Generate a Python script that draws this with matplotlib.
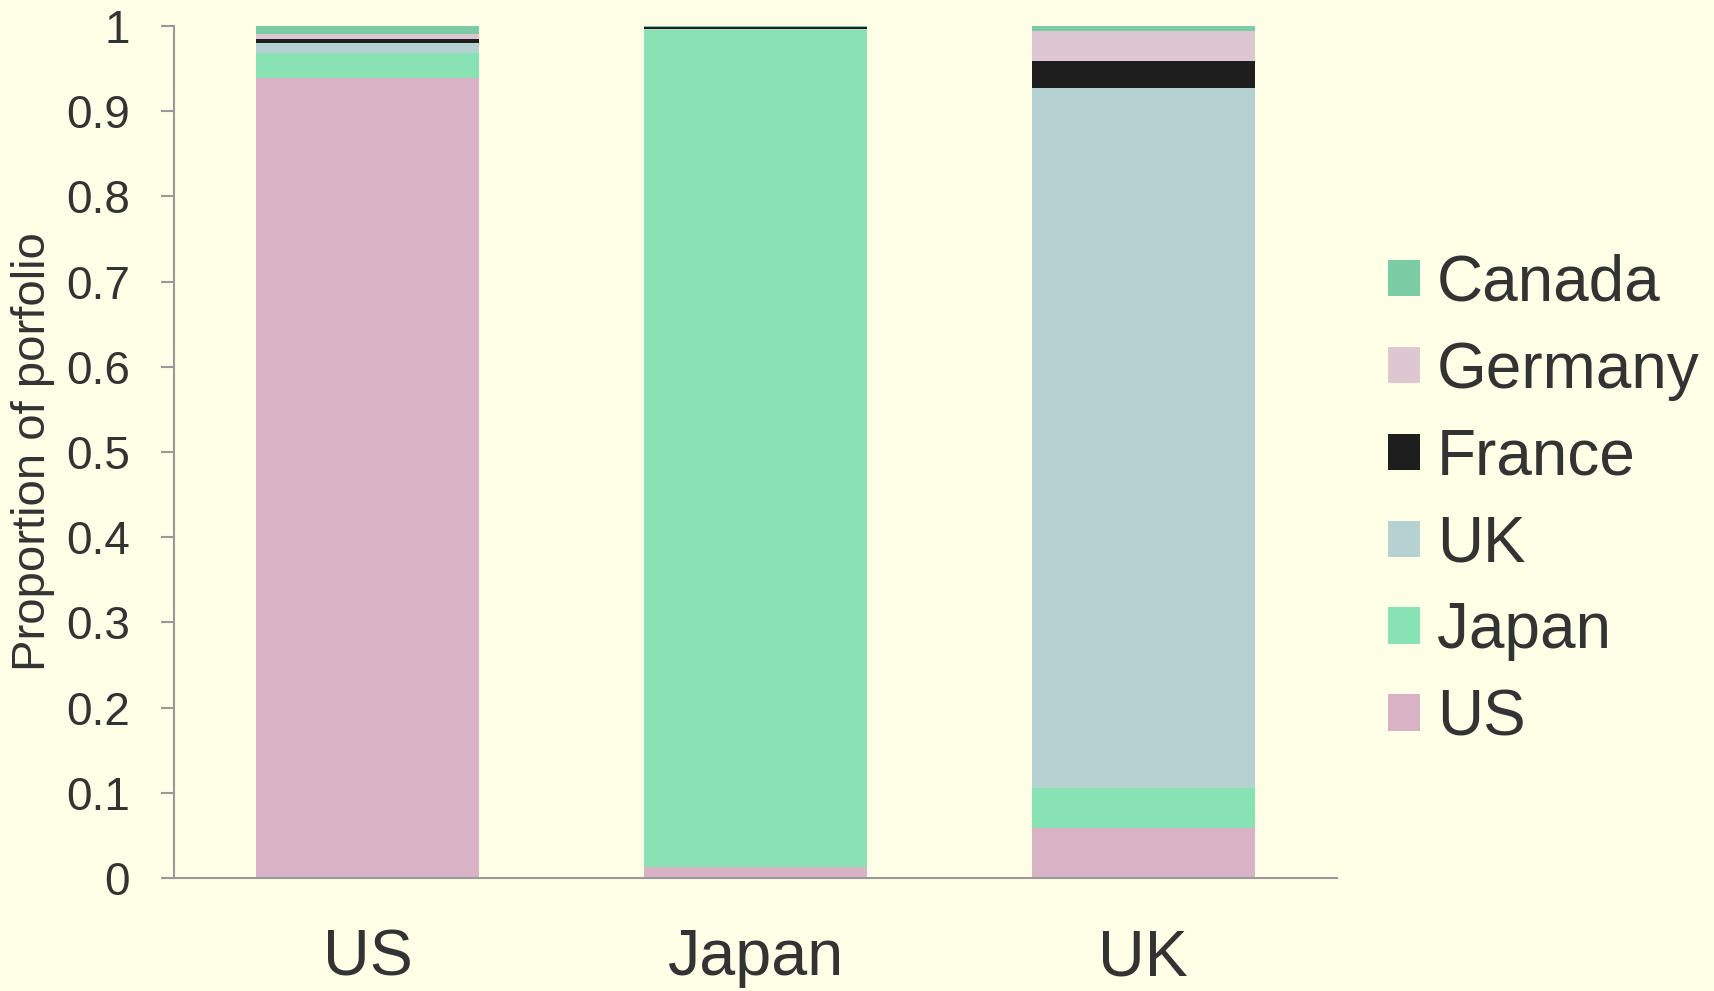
import numpy as np
import matplotlib.pyplot as plt
from matplotlib.patches import Patch

plt.rcParams['font.family'] = ['Liberation Sans', 'DejaVu Sans']

# investor country (bars) and holdings by country (stacks)
investidores = ['US', 'Japan', 'UK']
paises = ['US', 'Japan', 'UK', 'France', 'Germany', 'Canada']
us = [0.9386, 0.0125, 0.0587]
japan = [0.0300, 0.9825, 0.0475]
uk = [0.0110, 0.0015, 0.8210]
france = [0.0050, 0.0020, 0.0320]
germany = [0.0060, 0.0005, 0.0350]
canada = [0.0094, 0.0010, 0.0060]
valores = [us, japan, uk, france, germany, canada]
cores = ['#d9b3c5', '#88e2b4', '#b5d1d2', '#1e1e1e', '#ddc8d2', '#7bcba4']

fundo = '#ffffe8'
texto = '#333333'

fig = plt.figure(figsize=(17.15, 9.91), dpi=100, facecolor=fundo)
ax = fig.add_axes([174 / 1715, 1 - 878 / 991, (1337 - 174) / 1715, (878 - 26) / 991])
ax.set_facecolor(fundo)

x = np.arange(len(investidores))
base = np.zeros(len(investidores))
for nome, v, c in zip(paises, valores, cores):
    ax.bar(x, v, width=0.575, bottom=base, color=c, linewidth=0, label=nome)
    base += np.array(v)

ax.set_xlim(-0.5, 2.5)
ax.set_ylim(0, 1)
ax.set_yticks(np.arange(0, 1.01, 0.1))
ax.set_yticklabels(['0', '0.1', '0.2', '0.3', '0.4', '0.5', '0.6', '0.7', '0.8', '0.9', '1'])
ax.set_xticks(x)
ax.set_xticklabels(investidores)

ax.tick_params(axis='y', labelsize=33, colors='#999999', labelcolor=texto, length=9.5, width=1.5, pad=22)
ax.tick_params(axis='x', labelsize=46.5, labelcolor=texto, length=0, pad=36)
for s in ['top', 'right']:
    ax.spines[s].set_visible(False)
for s in ['left', 'bottom']:
    ax.spines[s].set_color('#999999')
    ax.spines[s].set_linewidth(1.5)

fig.text(33 / 1715, 1 - 452 / 991, 'Proportion of porfolio', rotation=90,
         ha='center', va='center', fontsize=34, color=texto)

# legenda em ordem inversa (Canada em cima)
handles = [Patch(facecolor=c, edgecolor='none') for c in cores][::-1]
leg = fig.legend(handles, paises[::-1], loc='center left',
                 bbox_to_anchor=(1388 / 1715, 1 - 501 / 991), frameon=False,
                 fontsize=46, labelcolor=texto, handlelength=0.5, handleheight=0.5,
                 handletextpad=0.27, labelspacing=0.42, borderpad=0, borderaxespad=0)

fig.savefig('out.png', dpi=100, facecolor=fundo)
